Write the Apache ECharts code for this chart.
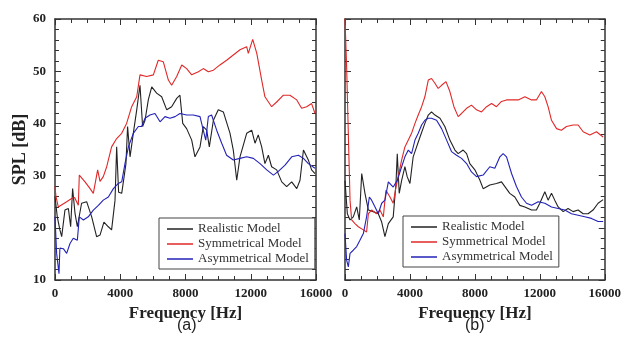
<!DOCTYPE html>
<html><head><meta charset="utf-8">
<script src="https://cdn.jsdelivr.net/npm/echarts@6/dist/echarts.min.js"></script>
<style>html,body{margin:0;padding:0;background:#fff}#c{width:624px;height:343px}</style>
</head><body><div id="c"></div>
<script>
// Panel (a) data: [frequency Hz, SPL dB]
var redA = [[0,27.9],[60,26],[200,24],[715,25],[1020,25.6],[1200,25.8],[1430,24.3],[1490,30.1],[1840,28.8],[2150,27.5],[2350,26.6],[2615,31.1],[2760,28.9],[2960,29.8],[3170,31.7],[3470,35.5],[3780,37.1],[4090,38.1],[4390,40],[4700,43.2],[5010,45.1],[5210,49.3],[5620,49],[6030,49.3],[6330,52.1],[6640,51.8],[6950,48.3],[7150,47.3],[7460,49],[7770,51.2],[8070,50.5],[8380,49.3],[8790,49.9],[9090,50.5],[9400,49.9],[9710,50.2],[10110,51.2],[10520,52.1],[10930,53.1],[11340,54.1],[11750,54.7],[11850,53.4],[12120,56.1],[12370,53.4],[12670,48.3],[12870,45.1],[12970,45.4],[13280,43.2],[13590,44.1],[14000,45.4],[14400,45.4],[14820,44.5],[15120,42.9],[15430,43.2],[15730,43.8],[15940,41.9]];
var blackA = [[0,26],[140,22.1],[300,19.6],[410,18.3],[610,23.4],[820,23.7],[960,20.2],[1080,27.5],[1230,22.7],[1370,20.2],[1630,24.7],[1940,25],[2250,22.1],[2550,18.3],[2760,18.6],[3000,21.1],[3270,20.2],[3470,19.6],[3680,25.3],[3780,35.5],[3900,26.8],[4090,26.6],[4350,32.3],[4450,39.4],[4600,33.6],[4800,38.1],[5010,42.6],[5210,47.3],[5370,39.4],[5520,40.6],[5720,44.5],[5930,47],[6230,45.8],[6540,45.1],[6850,42.6],[7150,43.2],[7460,44.8],[7660,45.4],[7830,40],[8070,39],[8380,36.8],[8580,33.6],[8890,35.5],[9090,39.4],[9300,38.7],[9460,35.5],[9710,40.6],[10010,42.6],[10320,42.2],[10730,38.1],[10930,34.9],[11140,29.1],[11340,33.6],[11750,38.1],[12060,38.7],[12260,36.2],[12460,37.8],[12670,35.5],[12870,32.3],[13080,33.9],[13280,31.7],[13590,31.1],[13900,28.8],[14200,27.9],[14510,28.8],[14820,27.5],[15020,29.1],[15230,34.9],[15530,33],[15730,31.1],[15940,30.4]];
var blueA = [[0,22.1],[100,15.1],[245,11.2],[300,16.1],[510,16],[715,15.1],[920,17],[1120,18],[1370,17.6],[1490,22.1],[1740,21.5],[2040,22.1],[2350,23.4],[2660,24.3],[2960,25.3],[3270,25.9],[3580,27.5],[3880,28.5],[4090,28.8],[4290,32.3],[4500,35.5],[4800,38.1],[5110,39.4],[5310,39.4],[5520,41],[5820,41.6],[6130,41.9],[6440,40.3],[6740,41.3],[7050,41],[7360,41.3],[7660,41.9],[8070,41.6],[8480,41.6],[8890,41.3],[9090,38.7],[9240,36.8],[9400,41.3],[9600,41.6],[9910,38.7],[10220,36.2],[10520,33.9],[10930,33],[11340,33.3],[11750,33.6],[12160,33.3],[12570,32.3],[12980,31.1],[13390,30.1],[13690,30.8],[14100,32],[14510,33.6],[14920,33.9],[15230,33.3],[15530,32.3],[15940,31.4]];
// Panel (b) data
var redB = [[0,60],[100,50.9],[205,38],[310,25.3],[410,21.5],[615,20.8],[820,20.2],[1130,19.6],[1330,19.2],[1440,22.7],[1640,23.4],[1950,22.7],[2150,23.4],[2360,22.1],[2520,27.2],[2770,25.9],[2970,24.7],[3140,27.8],[3280,29.8],[3490,33],[3690,35.5],[3900,36.8],[4100,38.1],[4310,40],[4510,41.6],[4720,43.2],[4920,45.1],[5130,48.3],[5330,48.6],[5540,47.7],[5740,46.7],[5950,47.3],[6220,48],[6460,46.1],[6710,43.2],[6970,41.3],[7180,41.9],[7490,42.9],[7790,43.5],[8100,42.6],[8410,42.2],[8720,43.2],[9030,43.8],[9330,43.2],[9640,44.2],[9950,44.5],[10260,44.5],[10670,44.5],[11080,45.1],[11490,44.5],[11790,44.5],[12100,46.1],[12310,45.1],[12510,43.2],[12720,40.6],[13030,39],[13330,38.7],[13640,39.4],[14050,39.7],[14360,39.7],[14670,38.4],[15080,37.8],[15490,38.4],[15900,37.4]];
var blackB = [[0,29],[145,22.7],[310,21.5],[510,22.1],[720,24],[880,21.5],[1030,30.4],[1230,26.6],[1440,23.4],[1740,23.1],[2050,22.7],[2260,21.1],[2460,18.3],[2670,20.8],[2970,22.1],[3140,28.5],[3220,34.2],[3340,26.6],[3490,29.1],[3690,31.7],[3830,29.8],[4000,28.5],[4200,33.6],[4410,35.5],[4620,37.4],[4920,40],[5130,41.6],[5330,42.2],[5540,41.6],[5850,41],[6150,39.4],[6460,36.8],[6770,34.9],[6970,34.2],[7280,34.9],[7490,34.2],[7690,32.3],[8000,31.1],[8310,29.1],[8510,27.5],[8920,28.2],[9330,28.5],[9640,28.8],[9850,27.9],[10150,26.6],[10460,25.9],[10770,24.3],[11080,24],[11490,23.4],[11790,23.4],[12000,24.7],[12310,26.9],[12510,25.3],[12720,26.6],[12920,25.3],[13130,24],[13440,23.1],[13740,23.7],[14050,23.1],[14360,23.4],[14670,22.7],[14970,22.7],[15280,23.4],[15590,24.7],[15900,25.4]];
var blueB = [[0,18.9],[100,13.8],[205,12.5],[310,15.1],[510,15.7],[720,16.4],[920,17.6],[1130,18.9],[1330,22.1],[1500,25.9],[1640,25.3],[1850,24],[2050,22.7],[2260,24.7],[2460,25.3],[2670,28.8],[2970,27.8],[3220,29.1],[3490,31.7],[3690,33.6],[3900,34.9],[4100,34.2],[4310,36.8],[4510,38.1],[4720,39.7],[4920,40.6],[5130,41],[5330,41],[5640,40.6],[5950,39],[6260,36.8],[6560,34.6],[6870,33.9],[7180,33.3],[7490,32.3],[7790,30.7],[8100,29.8],[8510,30.1],[8920,31.7],[9230,31.4],[9540,33.6],[9740,34.2],[9950,33.6],[10260,30.4],[10560,27.9],[10870,25.9],[11180,24.7],[11490,24.3],[11900,25],[12310,24.7],[12720,24],[13130,23.7],[13540,23.4],[13950,22.7],[14360,22.4],[14770,22.1],[15180,21.8],[15590,21.2],[15900,21.2]];
var seriesNames = ['Realistic Model','Symmetrical Model','Asymmetrical Model'];
var xTicks = {min:0, max:16000, interval:4000};
var yTicks = {min:10, max:60, interval:10};

var serif = 'Liberation Serif';
var axisCol = '#333';
function xAx(grid, pos, labels, name){
  return {type:'value', gridIndex:grid, position:pos, min:xTicks.min, max:xTicks.max, interval:xTicks.interval,
    axisLine:{show:true, onZero:false, lineStyle:{color:axisCol, width:1.5}},
    axisTick:{show:true, inside:true, length:6, lineStyle:{color:axisCol}},
    minorTick:{show:true, splitNumber:4, length:4, lineStyle:{color:axisCol}},
    splitLine:{show:false},
    axisLabel:{show:labels, margin:7, color:'#222', fontFamily:serif, fontWeight:'bold', fontSize:13,
      formatter:function(v){return String(v);}},
    name:name||'', nameLocation:'middle', nameGap:23,
    nameTextStyle:{fontFamily:serif, fontWeight:'bold', fontSize:17, color:'#222'}};
}
function yAx(grid, pos, labels, name){
  return {type:'value', gridIndex:grid, position:pos, min:yTicks.min, max:yTicks.max, interval:yTicks.interval,
    axisLine:{show:true, onZero:false, lineStyle:{color:axisCol, width:1.5}},
    axisTick:{show:true, inside:true, length:6, lineStyle:{color:axisCol}},
    minorTick:{show:true, splitNumber:5, length:4, lineStyle:{color:axisCol}},
    splitLine:{show:false},
    axisLabel:{show:labels, margin:9, color:'#222', fontFamily:serif, fontWeight:'bold', fontSize:13},
    name:name||'', nameLocation:'middle', nameGap:26,
    nameTextStyle:{fontFamily:serif, fontWeight:'bold', fontSize:18, color:'#222'}};
}
var colors = {'Realistic Model':'#222222','Symmetrical Model':'#e02828','Asymmetrical Model':'#2222b8'};
function ser(name, data, xi, yi){
  return {type:'line', name:name, data:data, xAxisIndex:xi, yAxisIndex:yi, showSymbol:false, symbol:'none',
    lineStyle:{width:1.1, color:colors[name]}, itemStyle:{color:colors[name]}, animation:false, z:3};
}
function leg(left, top){
  return {data:seriesNames.map(function(n){return {name:n, icon:'rect'};}), left:left, top:top, orient:'vertical',
    itemGap:1, itemWidth:26, itemHeight:1.5, itemStyle:{borderWidth:0},
    padding:[4,6,3,8], borderColor:'#444', borderWidth:1, backgroundColor:'#fff', selectedMode:false,
    textStyle:{fontFamily:serif, fontSize:13, color:'#333', lineHeight:14}};
}
var chart = echarts.init(document.getElementById('c'), null, {renderer:'canvas'});
chart.setOption({
  animation:false,
  backgroundColor:'#fff',
  grid:[{left:55, top:19, width:261, height:261},{left:345, top:19, width:260, height:261}],
  xAxis:[xAx(0,'bottom',true,'Frequency [Hz]'), xAx(0,'top',false), xAx(1,'bottom',true,'Frequency [Hz]'), xAx(1,'top',false)],
  yAxis:[yAx(0,'left',true,'SPL [dB]'), yAx(0,'right',false), yAx(1,'left',false), yAx(1,'right',false)],
  legend:[leg(159,218), leg(403,216)],
  series:[ser(seriesNames[0],blackA,0,0), ser(seriesNames[1],redA,0,0), ser(seriesNames[2],blueA,0,0),
          ser(seriesNames[0],blackB,2,2), ser(seriesNames[1],redB,2,2), ser(seriesNames[2],blueB,2,2)],
  graphic:[
    {type:'text', left:177, top:318, style:{text:'(a)', fontFamily:'Liberation Sans', fontSize:16, fill:'#222'}},
    {type:'text', left:465, top:318, style:{text:'(b)', fontFamily:'Liberation Sans', fontSize:16, fill:'#222'}}
  ]
});
</script></body></html>
